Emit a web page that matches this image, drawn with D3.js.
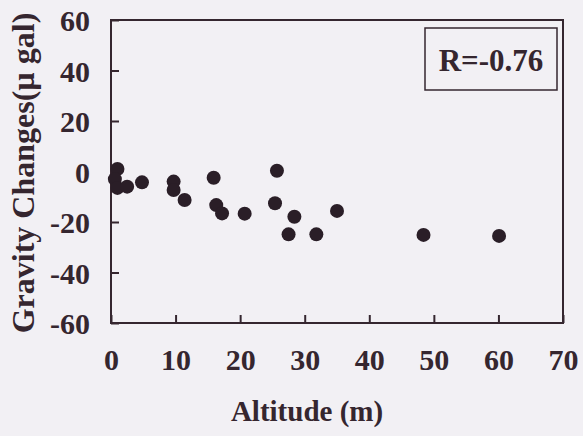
<!DOCTYPE html>
<html>
<head>
<meta charset="utf-8">
<script src="https://cdn.jsdelivr.net/npm/d3@7"></script>
<style>
  body { margin: 0; background: #f2f0f4; }
  svg { display: block; }
  text { font-family: "Liberation Serif", "Times New Roman", serif; font-weight: bold; fill: #35262f; }
</style>
</head>
<body>
<svg width="583" height="436"></svg>
<script>
// altitude (m) vs gravity change (µgal)
var altitude = [1.0, 0.6, 1.0, 2.5, 4.8, 9.7, 9.7, 11.4, 15.9, 16.3, 17.2, 20.7, 25.7, 25.4, 28.4, 27.5, 31.8, 35.0, 48.4, 60.1];
var gravity = [1.0, -3.0, -6.5, -6.0, -4.3, -4.0, -7.3, -11.3, -2.5, -13.3, -16.6, -16.7, 0.3, -12.6, -17.9, -24.9, -24.9, -15.6, -25.1, -25.5];
var xTicks = [0, 10, 20, 30, 40, 50, 60, 70];
var yTicks = [-60, -40, -20, 0, 20, 40, 60];
var rLabel = "R=-0.76";

var ink = "#35262f";

window.addEventListener("load", main);

function main() {
  var svg = d3.select("svg"),
    margin = {top: 20, right: 20, bottom: 113, left: 111},
    width = +svg.attr("width") - margin.left - margin.right,
    height = +svg.attr("height") - margin.top - margin.bottom;

  var g = svg.append("g")
    .attr("transform", "translate(" + margin.left + "," + margin.top + ")");

  var x = d3.scaleLinear().domain([0, 70]).range([0, width]);
  var y = d3.scaleLinear().domain([-60, 60]).range([height, 0]);

  // plain hyphen for negatives, like the original
  var fmt = function(d) { return String(d); };

  var xAxis = g.append("g")
    .attr("transform", "translate(0," + height + ")")
    .call(d3.axisBottom(x).tickValues(xTicks).tickFormat(fmt).tickSize(-8).tickPadding(26));
  xAxis.select(".domain").remove();
  xAxis.selectAll("line").attr("stroke", ink).attr("stroke-width", 2);
  xAxis.selectAll("text").attr("font-size", 30).attr("fill", ink)
    .attr("font-family", null);

  var yAxis = g.append("g")
    .call(d3.axisLeft(y).tickValues(yTicks).tickFormat(fmt).tickSize(-8).tickPadding(21));
  yAxis.select(".domain").remove();
  yAxis.selectAll("line").attr("stroke", ink).attr("stroke-width", 2);
  yAxis.selectAll("text").attr("font-size", 30).attr("fill", ink)
    .attr("dy", "0.36em").attr("font-family", null);

  // frame
  g.append("rect")
    .attr("width", width)
    .attr("height", height)
    .attr("fill", "none")
    .attr("stroke", ink)
    .attr("stroke-width", 2);

  // points
  g.append("g")
    .selectAll("circle")
    .data(altitude)
    .enter().append("circle")
    .attr("cx", function(d) { return x(d); })
    .attr("cy", function(d, i) { return y(gravity[i]); })
    .attr("r", 7)
    .attr("fill", "#2a1e27");

  // R box
  var box = g.append("g").attr("transform", "translate(" + (width - 138) + ",8)");
  box.append("rect")
    .attr("width", 132)
    .attr("height", 62)
    .attr("fill", "none")
    .attr("stroke", ink)
    .attr("stroke-width", 1.5);
  box.append("text")
    .attr("x", 66)
    .attr("y", 43)
    .attr("text-anchor", "middle")
    .attr("font-size", 31)
    .text(rLabel);

  // axis titles
  svg.append("text")
    .attr("x", 307)
    .attr("y", 421)
    .attr("text-anchor", "middle")
    .attr("font-size", 29)
    .text("Altitude (m)");

  svg.append("text")
    .attr("transform", "translate(34,173) rotate(-90)")
    .attr("text-anchor", "middle")
    .attr("font-size", 32)
    .text("Gravity Changes(\u00b5 gal)");
}
</script>
</body>
</html>
